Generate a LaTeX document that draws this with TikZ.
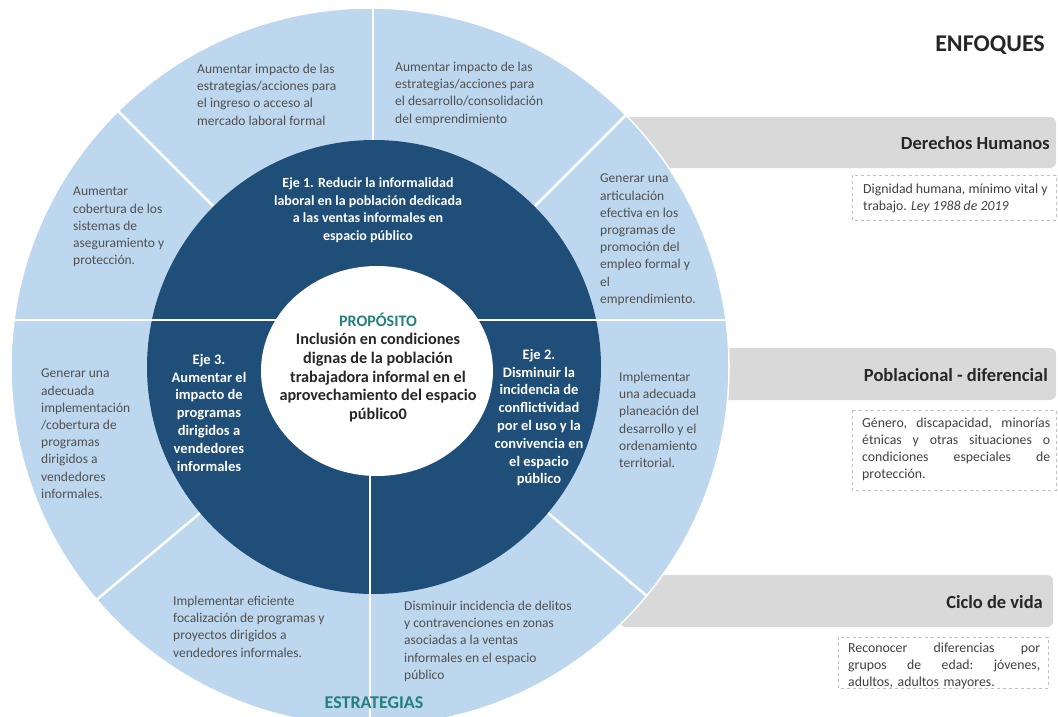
\documentclass[tikz,border=0pt]{standalone}
\usepackage{fontspec}
\setmainfont{Carlito}
\usetikzlibrary{calc}
\definecolor{lb}{HTML}{BDD7EE}
\definecolor{db}{HTML}{1F4E79}
\definecolor{txtgray}{HTML}{505050}
\definecolor{teal}{HTML}{23807D}
\definecolor{bandgray}{HTML}{D9D9D9}
\definecolor{dark}{HTML}{262626}
\definecolor{boxtxt}{HTML}{404040}
\definecolor{dashgray}{HTML}{BFBFBF}
\tikzset{
  divline/.style={white, line width=2.5pt},
  band/.style={fill=bandgray, rounded corners=6pt},
  dbox/.style={draw=dashgray, dashed, line width=0.8pt},
  otext/.style={anchor=north west, inner sep=0pt, align=left, text=txtgray, font=\fontsize{13.5}{17.2}\selectfont},
  ejetext/.style={anchor=north, inner sep=0pt, align=center, text=white, font=\bfseries\fontsize{14.5}{17.8}\selectfont},
  centertext/.style={anchor=north, inner sep=0pt, align=center, text=dark, font=\bfseries\fontsize{16.2}{18.8}\selectfont},
  bandtitle/.style={anchor=east, inner sep=0pt, text=dark, font=\bfseries\fontsize{18.5}{20}\selectfont},
  boxtext/.style={anchor=north west, inner sep=0pt, align=left, text=boxtxt, font=\fontsize{13.8}{16.8}\selectfont},
}
\begin{document}
\begin{tikzpicture}[x=1pt,y=-1pt]
\useasboundingbox (0,0) rectangle (1058,717);
\clip (0,0) rectangle (1058,717);
% enfoque bands (behind the circle)
\fill[band] (560,117) rectangle (1056,168);
\fill[band] (560,348) rectangle (1056,400);
\fill[band] (620,575) rectangle (1053,627);
% circle
\coordinate (oc) at (370,367);
\coordinate (dc) at (374,367);
\fill[lb] (oc) circle[radius=359pt];
\begin{scope}
  \clip (oc) circle[radius=359pt];
  \foreach \a in {45,135,220,320} \draw[divline] (dc) -- ++(\a:420pt);
  \draw[divline] (373,367) -- (373,0);
  \fill[db] (dc) circle[radius=227pt];
  \draw[divline] (0,320) -- (1058,320);
  \draw[divline] (370,367) -- (370,717);
\end{scope}
\fill[white] (377,371) ellipse[x radius=116pt, y radius=105pt];
\draw[white, line width=1.5pt] (oc) circle[radius=359pt];
% outer ring texts
\node[otext] (s1) at (197,64) {Aumentar impacto de las\\estrategias/acciones para\\el ingreso o acceso al\\mercado laboral formal};
\node[otext] (s2) at (395,62) {Aumentar impacto de las\\estrategias/acciones para\\el desarrollo/consolidación\\del emprendimiento};
\node[otext] (s3) at (600,174) {Generar una\\articulación\\efectiva en los\\programas de\\promoción del\\empleo formal y\\el\\emprendimiento.};
\node[otext] (s4) at (619,372) {Implementar\\una adecuada\\planeación del\\desarrollo y el\\ordenamiento\\territorial.};
\node[otext] (s5) at (404,601) {Disminuir incidencia de delitos\\y contravenciones en zonas\\asociadas a la ventas\\informales en el espacio\\público};
\node[otext] (s6) at (173,596) {Implementar eficiente\\focalización de programas y\\proyectos dirigidos a\\vendedores informales.};
\node[otext] (s7) at (41,369) {Generar una\\adecuada\\implementación\\/cobertura de\\programas\\dirigidos a\\vendedores\\informales.};
\node[otext] (s8) at (73,187) {Aumentar\\cobertura de los\\sistemas de\\aseguramiento y\\protección.};
% ejes
\node[ejetext, font=\bfseries\fontsize{14}{17.5}\selectfont] (e1) at (368,177.5) {Eje 1. Reducir la informalidad\\laboral en la población dedicada\\a las ventas informales en\\espacio público};
\node[ejetext] (e3) at (209,354) {Eje 3.\\Aumentar el\\impacto de\\programas\\dirigidos a\\vendedores\\informales};
\node[ejetext] (e2) at (539,349) {Eje 2.\\Disminuir la\\incidencia de\\conflictividad\\por el uso y la\\convivencia en\\el espacio\\público};
% center
\node[anchor=center, inner sep=0pt, text=teal, font=\bfseries\fontsize{16}{18}\selectfont] (prop) at (378,320) {PROPÓSITO};
\node[centertext] (ptext) at (378,333) {Inclusión en condiciones\\dignas de la población\\trabajadora informal en el\\aprovechamiento del espacio\\público0};
\node[anchor=center, inner sep=0pt, text=teal, font=\bfseries\fontsize{18}{20}\selectfont] (estr) at (374,703) {ESTRATEGIAS};
% enfoques
\node[anchor=east, inner sep=0pt, text=dark, font=\bfseries\fontsize{24}{26}\selectfont] (enf) at (1045,45) {ENFOQUES};
\node[bandtitle] (t1) at (1050,143) {Derechos Humanos};
\node[bandtitle] (t2) at (1048,375) {Poblacional - diferencial};
\node[bandtitle] (t3) at (1043,602) {Ciclo de vida};
\draw[dbox] (852,175) rectangle (1056,220);
\draw[dbox] (852,410) rectangle (1056,490);
\draw[dbox] (838,637) rectangle (1048,688);
\node[boxtext] (b1) at (863,184) {Dignidad humana, mínimo vital y\\trabajo. \textit{Ley 1988 de 2019}};
\node[boxtext, text width=188pt] (b2) at (862,418) {Género,\hfill discapacidad,\hfill minorías\\étnicas\hfill y\hfill otras\hfill situaciones\hfill o\\condiciones\hfill especiales\hfill de\\protección.};
\node[boxtext, text width=192pt] (b3) at (848,643) {Reconocer\hfill diferencias\hfill por\\grupos\hfill de\hfill edad:\hfill jóvenes,\\adultos, adultos mayores.};
\end{tikzpicture}
\end{document}
